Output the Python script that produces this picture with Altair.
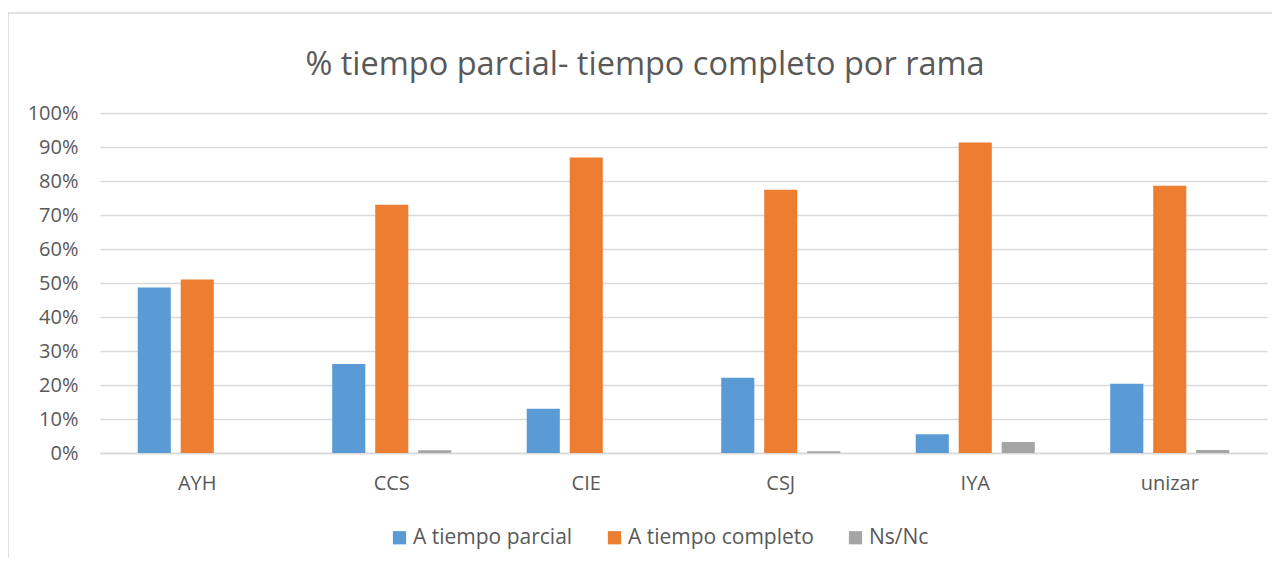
import altair as alt
import pandas as pd

categories = ["AYH", "CCS", "CIE", "CSJ", "IYA", "unizar"]
series = ["A tiempo parcial", "A tiempo completo", "Ns/Nc"]
parcial = [48.7, 26.2, 13.0, 22.1, 5.5, 20.4]
completo = [51.0, 73.0, 86.9, 77.4, 91.3, 78.6]
nsnc = [0.0, 0.8, 0.0, 0.5, 3.2, 0.9]
colors = ["#5B9BD5", "#ED7D31", "#A5A5A5"]
title_text = "% tiempo parcial- tiempo completo por rama"

rows = []
for s, vals in zip(series, [parcial, completo, nsnc]):
    for c, v in zip(categories, vals):
        rows.append({"rama": c, "serie": s, "valor": v / 100.0})
df = pd.DataFrame(rows)

FONT = "Open Sans"
TXT = "#595959"

bars = alt.Chart(df).mark_bar().encode(
    x=alt.X("rama:N", sort=categories, title=None,
            scale=alt.Scale(paddingInner=0.337, paddingOuter=0.1685),
            axis=alt.Axis(labelAngle=0, labelFontSize=20, labelColor=TXT, labelFont=FONT,
                          labelPadding=20, ticks=False, domainColor="#D9D9D9", domainWidth=1.5,
                          grid=False)),
    xOffset=alt.XOffset("serie:N", sort=series,
                        scale=alt.Scale(paddingInner=0.23, paddingOuter=0.115)),
    y=alt.Y("valor:Q", title=None, scale=alt.Scale(domain=[0, 1]),
            axis=alt.Axis(format=".0%", values=[i / 10 for i in range(11)],
                          labelFontSize=20, labelColor=TXT, labelFont=FONT, labelPadding=22,
                          ticks=False, domain=False, gridColor="#D9D9D9", gridWidth=1.5)),
    color=alt.Color("serie:N", sort=series,
                    scale=alt.Scale(domain=series, range=colors),
                    legend=alt.Legend(title=None, orient="none", direction="horizontal",
                                      legendX=289, legendY=414, symbolType="square",
                                      symbolSize=175, symbolStrokeWidth=0,
                                      labelFontSize=21, labelColor=TXT, labelFont=FONT,
                                      labelOffset=3, columnPadding=31, labelLimit=400)),
)

frame = alt.Chart(pd.DataFrame({"k": [0]})).mark_rect(
    fill=None, stroke="#D9D9D9", strokeWidth=1.5
).encode(x=alt.value(-92), x2=alt.value(1178), y=alt.value(-100), y2=alt.value(480))

title = alt.Chart(pd.DataFrame({"t": [title_text]})).mark_text(
    font=FONT, fontSize=32.5, color=TXT, align="center", baseline="alphabetic"
).encode(text="t:N", x=alt.value(545), y=alt.value(-38))

chart = alt.layer(frame, title, bars).properties(
    width=1167, height=340,
    autosize=alt.AutoSizeParams(type="none"),
    padding={"left": 92, "top": 105, "right": 5, "bottom": 105},
).configure_view(stroke=None)

chart.save("out.html", embed_options={"renderer": "svg", "actions": False})
